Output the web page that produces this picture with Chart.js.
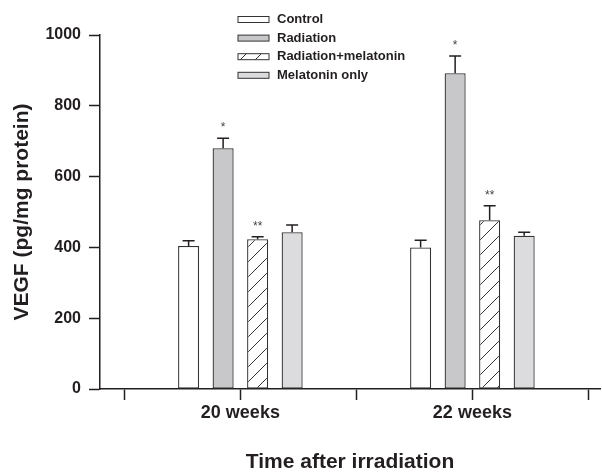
<!DOCTYPE html>
<html>
<head>
<meta charset="utf-8">
<script src="https://cdn.jsdelivr.net/npm/chart.js@4.4.0/dist/chart.umd.min.js"></script>
<style>
html, body { margin: 0; padding: 0; background: #fff; }
canvas { display: block; }
</style>
</head>
<body>
<canvas id="vegfChart" width="602" height="472"></canvas>
<script>
// groups on the x axis and where they sit
var groupLabels = ['20 weeks', '22 weeks'];
var groupPos = [1, 2];
var xTickPos = [0.5, 1, 1.5, 2, 2.5];
var yTicks = [0, 200, 400, 600, 800, 1000];

// VEGF means and SE (pg/mg protein)
var seriesNames = ['Control', 'Radiation', 'Radiation+melatonin', 'Melatonin only'];
var control = [404, 400];
var controlErr = [15, 20];
var radiation = [680, 892];
var radiationErr = [28, 49];
var radMel = [423, 477];
var radMelErr = [7, 41];
var melOnly = [443, 433];
var melOnlyErr = [20, 10];
var marks = [['', ''], ['*', '*'], ['**', '**'], ['', '']];

var INK = '#231f20';
var FONT = "'Liberation Sans', Arial, sans-serif";

function hatchPattern() {
var c = document.createElement('canvas');
c.width = 15; c.height = 15;
var g = c.getContext('2d');
g.fillStyle = '#ffffff';
g.fillRect(0, 0, 15, 15);
g.strokeStyle = '#333333';
g.lineWidth = 1;
g.beginPath();
g.moveTo(0, 15); g.lineTo(15, 0);
g.moveTo(-2, 2); g.lineTo(2, -2);
g.moveTo(13, 17); g.lineTo(17, 13);
g.stroke();
return g.createPattern(c, 'repeat');
}

function toPoints(vals) {
return vals.map(function(v, i) { return { x: groupPos[i], y: v }; });
}

var fills = ['#ffffff', '#c8c8ca', hatchPattern(), '#dcdcde'];
var errs = [controlErr, radiationErr, radMelErr, melOnlyErr];

var errorBars = {
id: 'errorBars',
afterDatasetsDraw: function(chart) {
var ctx = chart.ctx;
var y = chart.scales.y;
ctx.save();
ctx.strokeStyle = INK;
ctx.lineWidth = 1.5;
chart.data.datasets.forEach(function(ds, i) {
var meta = chart.getDatasetMeta(i);
meta.data.forEach(function(bar, j) {
var top = y.getPixelForValue(ds.data[j].y + errs[i][j]);
ctx.beginPath();
ctx.moveTo(bar.x, bar.y);
ctx.lineTo(bar.x, top);
ctx.moveTo(bar.x - 6, top);
ctx.lineTo(bar.x + 6, top);
ctx.stroke();
if (marks[i][j]) {
ctx.fillStyle = '#444';
ctx.font = '12px ' + FONT;
ctx.textAlign = 'center';
ctx.textBaseline = 'alphabetic';
ctx.fillText(marks[i][j], bar.x, top - 7);
}
});
});
ctx.restore();
}
};

var legendBoxes = {
id: 'legendBoxes',
afterDraw: function(chart) {
var ctx = chart.ctx;
ctx.save();
ctx.font = 'bold 13px ' + FONT;
ctx.textBaseline = 'middle';
ctx.textAlign = 'left';
chart.data.datasets.forEach(function(ds, i) {
var cy = 19.5 + i * 18.6;
ctx.fillStyle = ds.backgroundColor;
ctx.fillRect(238, cy - 3, 31, 6);
ctx.strokeStyle = '#333';
ctx.lineWidth = 1;
ctx.strokeRect(238, cy - 3, 31, 6);
ctx.fillStyle = INK;
ctx.fillText(ds.label, 277, cy);
});
ctx.restore();
}
};

// bar ruler uses the 0.5-step ticks, hence the >1 category share
var datasets = [control, radiation, radMel, melOnly].map(function(vals, i) {
return {
label: seriesNames[i],
data: toPoints(vals),
backgroundColor: fills[i],
borderColor: '#333333',
borderWidth: 1.3,
borderSkipped: false,
categoryPercentage: 1.19,
barPercentage: 0.61
};
});

new Chart(document.getElementById('vegfChart').getContext('2d'), {
type: 'bar',
data: { datasets: datasets },
options: {
responsive: false,
animation: false,
layout: { padding: { top: 35, right: 2, left: 0, bottom: 0 } },
plugins: { legend: { display: false }, tooltip: { enabled: false } },
scales: {
x: {
type: 'linear',
offset: false,
min: 0.395,
max: 2.55,
afterBuildTicks: function(scale) {
scale.ticks = xTickPos.map(function(v) { return { value: v }; });
},
afterFit: function(scale) { scale.height = 83; },
grid: { offset: false, drawOnChartArea: false, drawTicks: true, tickLength: 11, tickColor: INK, tickWidth: 1.5 },
border: { display: true, color: INK, width: 1.5 },
ticks: {
autoSkip: false,
maxRotation: 0,
padding: 2,
color: INK,
font: { family: FONT, size: 18, weight: 'bold' },
callback: function(v) {
var k = groupPos.indexOf(v);
return k >= 0 ? groupLabels[k] : '';
}
},
title: {
display: true,
text: 'Time after irradiation',
color: INK,
font: { family: FONT, size: 21, weight: 'bold', lineHeight: 0.9 },
padding: { top: 0, bottom: 0 }
}
},
y: {
min: 0,
max: 1000,
afterBuildTicks: function(scale) {
scale.ticks = yTicks.map(function(v) { return { value: v }; });
},
afterFit: function(scale) { scale.width = 100; },
grid: { drawOnChartArea: false, drawTicks: true, tickLength: 11, tickColor: INK, tickWidth: 1.5 },
border: { display: true, color: INK, width: 1.5 },
ticks: {
padding: 8,
color: INK,
font: { family: FONT, size: 16, weight: 'bold' },
callback: function(v) { return String(v); }
},
title: {
display: true,
text: 'VEGF (pg/mg protein)',
color: INK,
font: { family: FONT, size: 21, weight: 'bold' },
padding: { top: 10, bottom: 0 }
}
}
}
},
plugins: [errorBars, legendBoxes]
});
</script>
</body>
</html>
